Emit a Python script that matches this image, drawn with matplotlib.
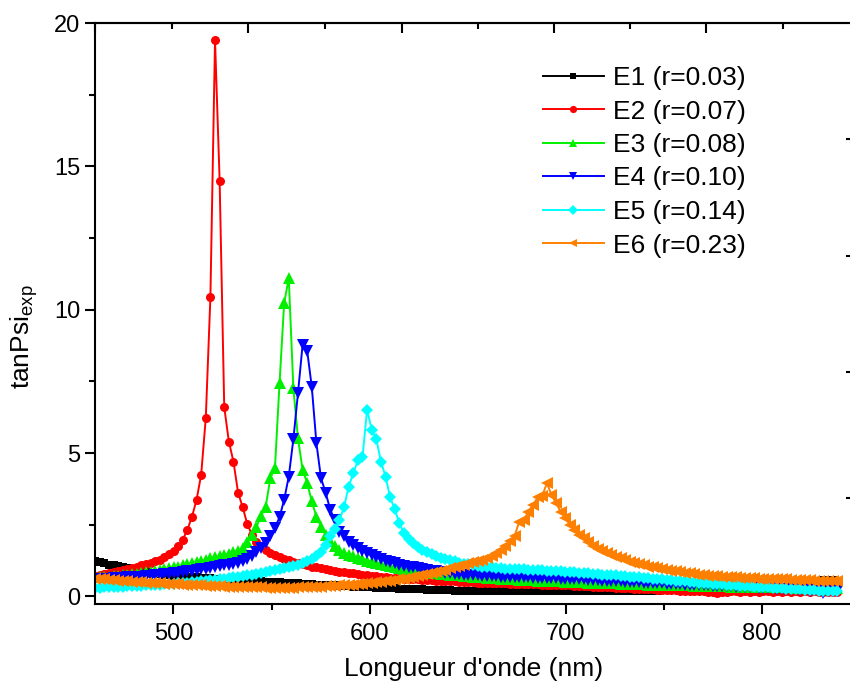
import numpy as np
import matplotlib
matplotlib.use("Agg")
import matplotlib.pyplot as plt

plt.rcParams['font.family'] = ['Liberation Sans', 'DejaVu Sans']
plt.rcParams['mathtext.default'] = 'regular'

# wavelength grid of the spectra (nm), 162 points
wavelength = np.round(460.1 + 2.35 * np.arange(162), 2)

labels = ["E1 (r=0.03)", "E2 (r=0.07)", "E3 (r=0.08)",
          "E4 (r=0.10)", "E5 (r=0.14)", "E6 (r=0.23)"]

# tanPsi values
e1 = [1.25, 1.20, 1.15, 1.11, 1.08, 1.05, 1.01, 0.98, 0.95, 0.92,
      0.88, 0.85, 0.82, 0.80, 0.78, 0.76, 0.74, 0.72, 0.70, 0.69,
      0.68, 0.67, 0.66, 0.65, 0.64, 0.63, 0.62, 0.60, 0.59, 0.58,
      0.57, 0.56, 0.55, 0.55, 0.54, 0.53, 0.52, 0.51, 0.50, 0.50,
      0.49, 0.48, 0.47, 0.46, 0.45, 0.44, 0.43, 0.42, 0.41, 0.40,
      0.40, 0.39, 0.38, 0.37, 0.36, 0.35, 0.34, 0.33, 0.33, 0.32,
      0.31, 0.30, 0.30, 0.29, 0.28, 0.28, 0.27, 0.26, 0.25, 0.25,
      0.24, 0.24, 0.23, 0.23, 0.22, 0.22, 0.21, 0.21, 0.20, 0.20,
      0.19, 0.19, 0.19, 0.18, 0.18, 0.18, 0.18, 0.17, 0.17, 0.17,
      0.17, 0.17, 0.17, 0.17, 0.17, 0.18, 0.18, 0.18, 0.18, 0.18,
      0.18, 0.18, 0.18, 0.18, 0.19, 0.19, 0.19, 0.19, 0.19, 0.19,
      0.19, 0.19, 0.19, 0.20, 0.20, 0.20, 0.20, 0.20, 0.20, 0.20,
      0.20, 0.20, 0.20, 0.21, 0.21, 0.21, 0.21, 0.21, 0.21, 0.21,
      0.21, 0.21, 0.22, 0.22, 0.22, 0.22, 0.22, 0.22, 0.23, 0.23,
      0.23, 0.23, 0.24, 0.24, 0.25, 0.25, 0.26, 0.27, 0.28, 0.30,
      0.33, 0.37, 0.42, 0.46, 0.50, 0.53, 0.55, 0.55, 0.56, 0.55,
      0.56, 0.55]

e2 = [0.72, 0.75, 0.78, 0.81, 0.84, 0.87, 0.91, 0.95, 0.99, 1.03,
      1.08, 1.12, 1.17, 1.22, 1.28, 1.36, 1.46, 1.58, 1.74, 1.98,
      2.32, 2.78, 3.37, 4.25, 6.23, 10.45, 19.4, 14.5, 6.6, 5.4,
      4.7, 3.62, 3.11, 2.52, 2.15, 1.91, 1.75, 1.62, 1.52, 1.44,
      1.37, 1.31, 1.26, 1.21, 1.16, 1.12, 1.08, 1.04, 1.01, 0.98,
      0.95, 0.92, 0.89, 0.86, 0.84, 0.82, 0.80, 0.78, 0.76, 0.74,
      0.72, 0.70, 0.68, 0.66, 0.65, 0.64, 0.63, 0.62, 0.61, 0.60,
      0.59, 0.58, 0.57, 0.56, 0.55, 0.54, 0.53, 0.53, 0.52, 0.51,
      0.50, 0.49, 0.49, 0.48, 0.47, 0.47, 0.46, 0.46, 0.45, 0.45,
      0.44, 0.44, 0.43, 0.43, 0.42, 0.42, 0.42, 0.41, 0.41, 0.40,
      0.40, 0.39, 0.38, 0.38, 0.37, 0.36, 0.35, 0.35, 0.34, 0.33,
      0.33, 0.32, 0.31, 0.30, 0.29, 0.29, 0.28, 0.27, 0.26, 0.25,
      0.24, 0.24, 0.23, 0.22, 0.22, 0.21, 0.21, 0.20, 0.19, 0.19,
      0.18, 0.18, 0.17, 0.16, 0.15, 0.10, 0.16, 0.16, 0.17, 0.17,
      0.16, 0.17, 0.16, 0.17, 0.16, 0.17, 0.17, 0.16, 0.17, 0.16,
      0.17, 0.16, 0.17, 0.16, 0.17, 0.16, 0.17, 0.16, 0.15, 0.16,
      0.15, 0.16]

e3 = [0.66, 0.67, 0.68, 0.69, 0.70, 0.72, 0.73, 0.75, 0.77, 0.79,
      0.82, 0.84, 0.86, 0.88, 0.91, 0.95, 0.98, 1.01, 1.04, 1.08,
      1.12, 1.15, 1.19, 1.23, 1.27, 1.32, 1.36, 1.40, 1.44, 1.48,
      1.53, 1.58, 1.70, 1.91, 2.15, 2.43, 2.81, 3.13, 4.12, 4.47,
      7.44, 10.23, 11.1, 7.26, 5.52, 4.41, 3.95, 3.31, 2.78, 2.43,
      2.15, 1.93, 1.74, 1.62, 1.51, 1.45, 1.40, 1.35, 1.30, 1.25,
      1.21, 1.17, 1.13, 1.10, 1.06, 1.03, 1.00, 0.97, 0.94, 0.92,
      0.89, 0.87, 0.85, 0.83, 0.81, 0.79, 0.77, 0.76, 0.74, 0.73,
      0.71, 0.70, 0.69, 0.68, 0.66, 0.65, 0.64, 0.63, 0.62, 0.61,
      0.60, 0.59, 0.58, 0.58, 0.57, 0.56, 0.55, 0.55, 0.54, 0.53,
      0.52, 0.52, 0.51, 0.51, 0.50, 0.49, 0.49, 0.48, 0.48, 0.47,
      0.46, 0.46, 0.45, 0.45, 0.44, 0.44, 0.43, 0.43, 0.42, 0.42,
      0.41, 0.41, 0.40, 0.40, 0.40, 0.39, 0.39, 0.38, 0.38, 0.38,
      0.37, 0.37, 0.37, 0.36, 0.36, 0.35, 0.35, 0.35, 0.34, 0.34,
      0.34, 0.33, 0.33, 0.33, 0.32, 0.32, 0.32, 0.32, 0.31, 0.31,
      0.31, 0.31, 0.30, 0.30, 0.30, 0.30, 0.29, 0.29, 0.29, 0.29,
      0.29, 0.28]

e4 = [0.60, 0.61, 0.61, 0.62, 0.63, 0.64, 0.65, 0.66, 0.67, 0.68,
      0.69, 0.70, 0.72, 0.73, 0.75, 0.77, 0.79, 0.81, 0.83, 0.85,
      0.88, 0.90, 0.92, 0.95, 0.97, 1.00, 1.03, 1.05, 1.08, 1.11,
      1.14, 1.18, 1.22, 1.30, 1.42, 1.55, 1.70, 1.87, 2.09, 2.38,
      2.76, 3.37, 4.18, 5.48, 7.09, 8.77, 8.56, 7.30, 5.34, 4.12,
      3.62, 3.02, 2.67, 2.26, 2.09, 1.90, 1.78, 1.68, 1.58, 1.50,
      1.43, 1.37, 1.31, 1.25, 1.20, 1.15, 1.11, 1.07, 1.04, 1.01,
      0.98, 0.95, 0.92, 0.90, 0.87, 0.85, 0.83, 0.81, 0.79, 0.78,
      0.76, 0.75, 0.74, 0.73, 0.72, 0.71, 0.70, 0.70, 0.69, 0.68,
      0.68, 0.67, 0.67, 0.66, 0.66, 0.65, 0.65, 0.64, 0.64, 0.64,
      0.63, 0.62, 0.62, 0.61, 0.60, 0.60, 0.59, 0.58, 0.57, 0.56,
      0.55, 0.55, 0.54, 0.53, 0.52, 0.51, 0.50, 0.50, 0.49, 0.48,
      0.47, 0.46, 0.46, 0.45, 0.44, 0.43, 0.43, 0.42, 0.41, 0.41,
      0.40, 0.39, 0.39, 0.38, 0.37, 0.37, 0.36, 0.35, 0.35, 0.34,
      0.33, 0.32, 0.32, 0.31, 0.30, 0.29, 0.29, 0.28, 0.27, 0.26,
      0.25, 0.25, 0.24, 0.23, 0.22, 0.18, 0.22, 0.21, 0.12, 0.20,
      0.19, 0.18]

e5 = [0.30, 0.30, 0.31, 0.32, 0.32, 0.33, 0.34, 0.35, 0.35, 0.36,
      0.37, 0.38, 0.39, 0.40, 0.41, 0.42, 0.43, 0.44, 0.45, 0.46,
      0.48, 0.49, 0.51, 0.52, 0.54, 0.56, 0.58, 0.60, 0.62, 0.64,
      0.66, 0.68, 0.71, 0.73, 0.76, 0.79, 0.82, 0.85, 0.88, 0.91,
      0.95, 0.98, 1.02, 1.06, 1.10, 1.15, 1.22, 1.30, 1.40, 1.55,
      1.78, 2.09, 2.34, 2.67, 3.11, 3.83, 4.30, 4.74, 4.86, 6.51,
      5.81, 5.49, 4.70, 4.18, 3.45, 3.04, 2.55, 2.20, 2.00, 1.85,
      1.72, 1.63, 1.55, 1.48, 1.41, 1.35, 1.30, 1.26, 1.22, 1.18,
      1.14, 1.12, 1.09, 1.07, 1.04, 1.02, 1.01, 1.00, 0.98, 0.97,
      0.96, 0.95, 0.94, 0.94, 0.93, 0.92, 0.91, 0.91, 0.90, 0.89,
      0.88, 0.87, 0.86, 0.85, 0.84, 0.82, 0.81, 0.80, 0.79, 0.77,
      0.76, 0.75, 0.74, 0.73, 0.71, 0.70, 0.69, 0.67, 0.66, 0.64,
      0.63, 0.62, 0.60, 0.59, 0.57, 0.56, 0.55, 0.53, 0.52, 0.50,
      0.49, 0.48, 0.47, 0.45, 0.44, 0.43, 0.42, 0.40, 0.39, 0.38,
      0.37, 0.36, 0.35, 0.34, 0.33, 0.32, 0.31, 0.30, 0.29, 0.28,
      0.27, 0.26, 0.25, 0.24, 0.23, 0.22, 0.21, 0.20, 0.20, 0.19,
      0.18, 0.18]

e6 = [0.62, 0.60, 0.59, 0.57, 0.56, 0.55, 0.54, 0.52, 0.51, 0.50,
      0.49, 0.48, 0.47, 0.46, 0.45, 0.44, 0.43, 0.42, 0.42, 0.41,
      0.40, 0.39, 0.38, 0.38, 0.37, 0.36, 0.36, 0.35, 0.34, 0.34,
      0.33, 0.33, 0.32, 0.32, 0.31, 0.31, 0.31, 0.30, 0.30, 0.30,
      0.30, 0.30, 0.30, 0.30, 0.31, 0.31, 0.32, 0.32, 0.33, 0.34,
      0.35, 0.36, 0.37, 0.38, 0.39, 0.40, 0.41, 0.43, 0.44, 0.45,
      0.47, 0.49, 0.51, 0.52, 0.54, 0.56, 0.59, 0.61, 0.64, 0.67,
      0.70, 0.73, 0.77, 0.80, 0.84, 0.88, 0.93, 0.98, 1.02, 1.06,
      1.11, 1.16, 1.20, 1.24, 1.28, 1.33, 1.40, 1.50, 1.60, 1.74,
      1.92, 2.09, 2.61, 2.67, 2.95, 3.19, 3.45, 3.50, 3.95, 3.54,
      3.25, 2.95, 2.73, 2.50, 2.32, 2.15, 2.03, 1.88, 1.74, 1.66,
      1.58, 1.51, 1.45, 1.38, 1.32, 1.26, 1.21, 1.16, 1.12, 1.08,
      1.04, 1.01, 0.98, 0.95, 0.92, 0.89, 0.87, 0.84, 0.82, 0.80,
      0.78, 0.75, 0.74, 0.72, 0.71, 0.70, 0.69, 0.68, 0.67, 0.66,
      0.65, 0.64, 0.63, 0.63, 0.62, 0.61, 0.61, 0.60, 0.60, 0.59,
      0.59, 0.58, 0.58, 0.57, 0.56, 0.56, 0.55, 0.55, 0.54, 0.54,
      0.53, 0.52]

series = [e1, e2, e3, e4, e5, e6]
colors = ['#000000', '#ff0000', '#00f000', '#0000ff', '#00ffff', '#ff8000']
markers = ['s', 'o', '^', 'v', 'D', '<']
msizes = [6.0, 6.5, 8.0, 8.0, 6.5, 8.0]

fig = plt.figure(figsize=(8.5, 6.9), dpi=100)
ax = fig.add_axes([95 / 850, 1 - 603.5 / 690, 757 / 850, 580.5 / 690])

for y, c, m, ms, lab in zip(series, colors, markers, msizes, labels):
    ax.plot(wavelength, y, color=c, marker=m, markersize=ms, linewidth=1.4,
            markeredgewidth=0, label=lab)

ax.set_xlim(460, 846)
ax.set_ylim(-0.25, 20)
ax.set_xticks([500, 600, 700, 800])
ax.set_xticks([550, 650, 750], minor=True)
ax.set_yticks([0, 5, 10, 15, 20])
ax.set_yticks([2.5, 7.5, 12.5, 17.5], minor=True)

for s in ax.spines.values():
    s.set_linewidth(1.5)
ax.spines['right'].set_visible(False)
ax.tick_params(which='both', direction='out', width=1.5, labelsize=17, top=False, right=False)
ax.tick_params(which='major', length=7)
ax.tick_params(which='minor', length=4)
ax.tick_params(axis='x', which='major', pad=7)

# top axis has its own scale in the original (ticks only)
top = ax.secondary_xaxis('top')
top.set_xticks([460.0, 538.2, 616.4, 693.9, 771.7])
top.set_xticks([499.2, 577.3, 655.1, 733.0, 810.7], minor=True)
top.tick_params(which='both', direction='in', width=1.5, labeltop=False)
top.tick_params(which='major', length=7)
top.tick_params(which='minor', length=4)
top.spines['top'].set_linewidth(1.5)

# right axis sits just outside the picture, only its inner ticks show
right = ax.secondary_yaxis('right')
right.set_yticks([3.44, 7.83, 11.88, 15.96])
right.tick_params(direction='in', length=4, width=1.5, labelright=False)
right.spines['right'].set_linewidth(1.5)

ax.set_xlabel("Longueur d'onde (nm)", fontsize=19, labelpad=9)
ax.set_ylabel("tanPsi$_{exp}$", fontsize=19)
ax.yaxis.set_label_coords(-0.072, 0.46)

fig.legend(loc='upper left', bbox_to_anchor=(543 / 850, 1 - 66 / 690), frameon=False,
           fontsize=19, numpoints=1, handlelength=2.3, handletextpad=0.35,
           labelspacing=0.36, borderpad=0, borderaxespad=0, markerscale=0.8)

fig.savefig('out.png', dpi=100)
